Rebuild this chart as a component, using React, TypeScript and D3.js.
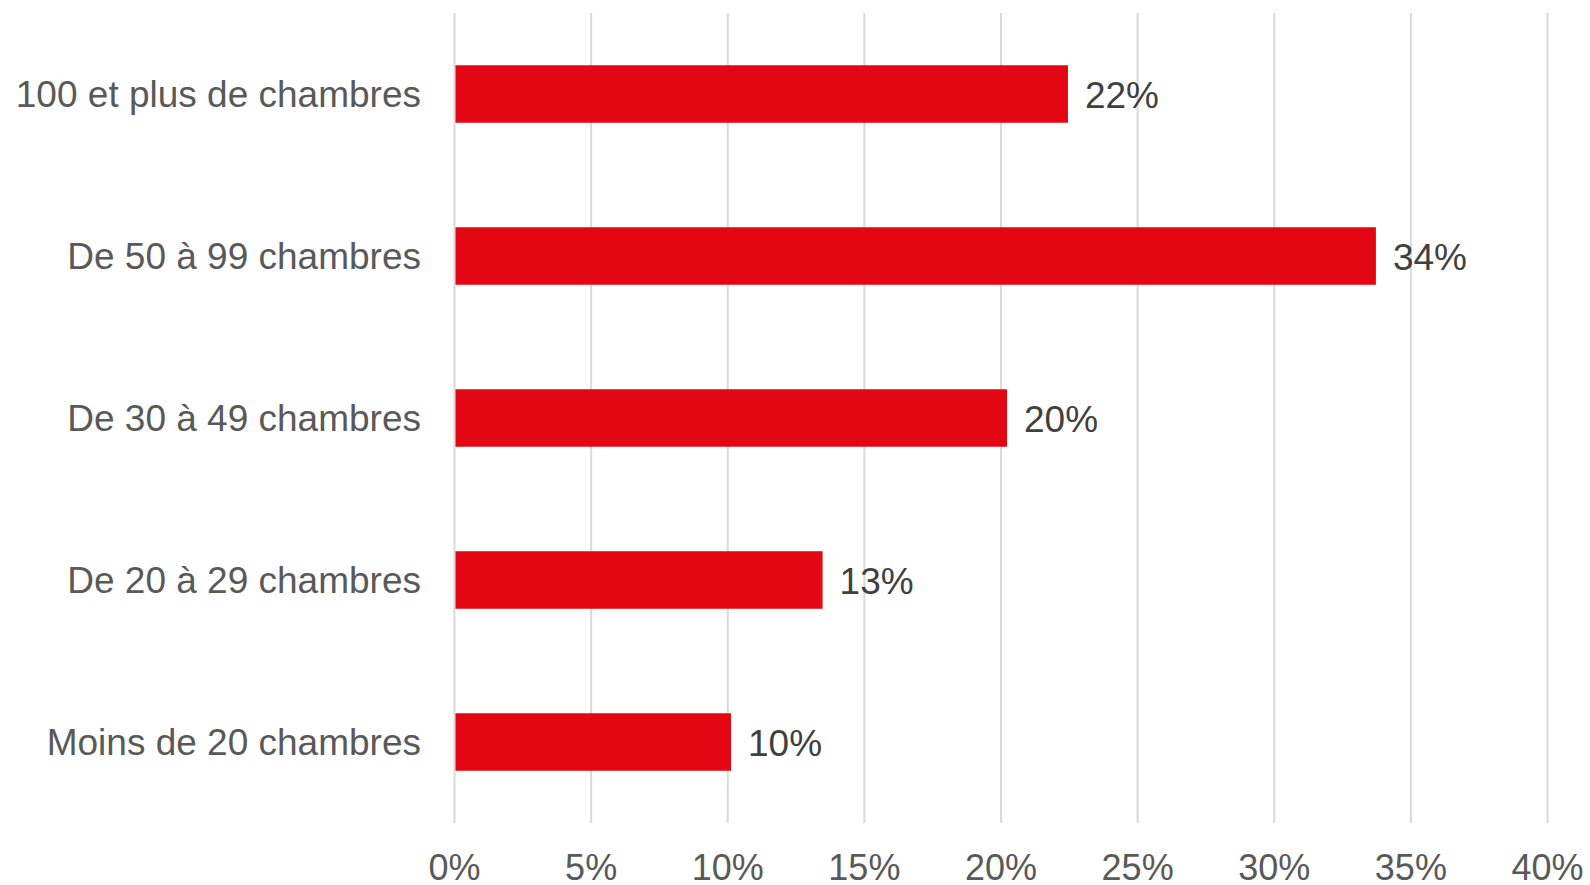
import React from "react";
import * as d3 from "d3";

const categories = [
  "100 et plus de chambres",
  "De 50 à 99 chambres",
  "De 30 à 49 chambres",
  "De 20 à 29 chambres",
  "Moins de 20 chambres",
];
const values = [22.45, 33.72, 20.22, 13.47, 10.12];
const ticks = [0, 5, 10, 15, 20, 25, 30, 35, 40];

const W = 1590;
const H = 885;
const FONT = "'Liberation Sans', Arial, sans-serif";

export default function App() {
  const x = d3.scaleLinear().domain([0, 40]).range([454.5, 1547.5]);
  const y = d3
    .scaleBand<string>()
    .domain(categories)
    .range([13, 823])
    .paddingInner(0.645)
    .paddingOuter(0.3225);

  return (
    <svg
      width={W}
      height={H}
      style={{ position: "absolute", left: 0, top: 0, background: "#fff" }}
    >
      {ticks.map((t) => (
        <line
          key={"g" + t}
          x1={x(t)}
          x2={x(t)}
          y1={13}
          y2={823}
          stroke="#D9D9D9"
          strokeWidth={2}
        />
      ))}
      {categories.map((c, i) => (
        <rect
          key={"b" + c}
          x={x(0) + 1}
          y={y(c)!}
          width={x(values[i]) - x(0) - 1}
          height={y.bandwidth()}
          fill="#E30613"
        />
      ))}
      {categories.map((c, i) => (
        <text
          key={"v" + c}
          x={x(values[i]) + 17}
          y={y(c)! + y.bandwidth() / 2 + 14}
          fontFamily={FONT}
          fontSize={37}
          fill="#404040"
        >
          {Math.round(values[i]) + "%"}
        </text>
      ))}
      {categories.map((c) => (
        <text
          key={"c" + c}
          x={421}
          y={y(c)! + y.bandwidth() / 2 + 13}
          textAnchor="end"
          fontFamily={FONT}
          fontSize={37}
          fill="#595959"
        >
          {c}
        </text>
      ))}
      {ticks.map((t) => (
        <text
          key={"t" + t}
          x={x(t)}
          y={880}
          textAnchor="middle"
          fontFamily={FONT}
          fontSize={36}
          fill="#595959"
        >
          {t + "%"}
        </text>
      ))}
    </svg>
  );
}
